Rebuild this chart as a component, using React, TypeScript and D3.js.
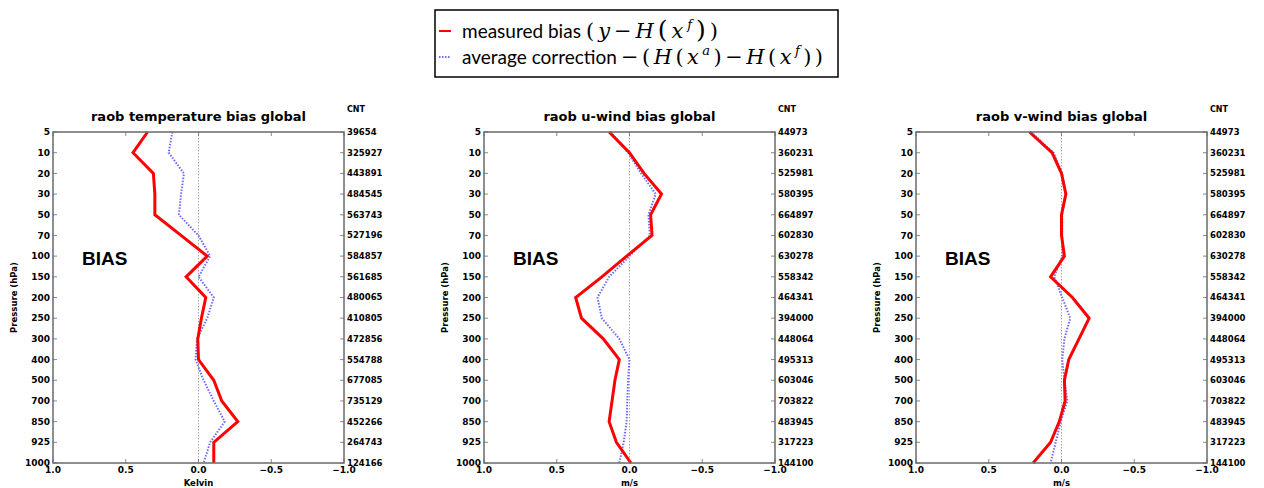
import React from "react";
import * as d3 from "d3";

const levels = [5, 10, 20, 30, 50, 70, 100, 150, 200, 250, 300, 400, 500, 700, 850, 925, 1000];
const xTicks = [1.0, 0.5, 0.0, -0.5, -1.0];

const tempMeasured = [0.35, 0.45, 0.31, 0.30, 0.30, 0.12, -0.06, 0.085, -0.05, -0.02, 0.005, 0.0, -0.105, -0.16, -0.27, -0.105, -0.105];
const tempCorrection = [0.18, 0.205, 0.10, 0.12, 0.135, 0.0, -0.08, 0.0, -0.105, -0.06, 0.01, 0.02, -0.035, -0.105, -0.18, -0.08, -0.035];
const tempCount = [39654, 325927, 443891, 484545, 563743, 527196, 584857, 561685, 480065, 410805, 472856, 554788, 677085, 735129, 452266, 264743, 124166];

const uMeasured = [0.14, 0.0, -0.10, -0.22, -0.145, -0.155, 0.02, 0.19, 0.37, 0.33, 0.18, 0.07, 0.10, 0.12, 0.14, 0.09, -0.01];
const uCorrection = [0.13, 0.01, -0.08, -0.18, -0.13, -0.14, 0.0, 0.14, 0.22, 0.19, 0.07, 0.0, 0.01, 0.015, 0.02, 0.04, 0.07];
const uCount = [44973, 360231, 525981, 580395, 664897, 602830, 630278, 558342, 464341, 394000, 448064, 495313, 603046, 703822, 483945, 317223, 144100];

const vMeasured = [0.22, 0.065, 0.0, -0.03, 0.0, 0.0, -0.02, 0.075, -0.075, -0.19, -0.12, -0.05, -0.02, -0.025, 0.015, 0.075, 0.195];
const vCorrection = [0.21, 0.055, -0.005, -0.03, -0.005, -0.005, -0.005, 0.05, -0.005, -0.06, -0.02, -0.005, -0.02, -0.04, 0.005, 0.04, 0.075];
const vCount = [44973, 360231, 525981, 580395, 664897, 602830, 630278, 558342, 464341, 394000, 448064, 495313, 603046, 703822, 483945, 317223, 144100];

const panels = [
  { title: "raob temperature bias global", unit: "Kelvin", left: 53, measured: tempMeasured, correction: tempCorrection, count: tempCount },
  { title: "raob u-wind bias global", unit: "m/s", left: 484, measured: uMeasured, correction: uCorrection, count: uCount },
  { title: "raob v-wind bias global", unit: "m/s", left: 916, measured: vMeasured, correction: vCorrection, count: vCount },
];

const PW = 291;
const TOP = 132;
const BOTTOM = 463;
const FONT = "'DejaVu Sans', sans-serif";
const SPINE = "#6a6a6a";
const fmt = (v: number) => (v < 0 ? "\u2212" : "") + Math.abs(v).toFixed(1);

function Panel({ p }: { p: (typeof panels)[number] }) {
  const x = d3.scaleLinear().domain([1, -1]).range([p.left, p.left + PW]);
  const y = d3.scalePoint<number>().domain(levels).range([TOP, BOTTOM]);
  const line = d3
    .line<number>()
    .x((d) => x(d))
    .y((_, i) => y(levels[i]) as number);
  const right = p.left + PW;
  const cx = p.left + PW / 2;
  return (
    <g>
      <text x={cx} y={121} textAnchor="middle" fontFamily={FONT} fontWeight="bold" fontSize={13}>
        {p.title}
      </text>
      <text x={right + 3} y={112} fontFamily={FONT} fontWeight="bold" fontSize={8}>
        CNT
      </text>
      <line x1={x(0)} x2={x(0)} y1={TOP} y2={BOTTOM} stroke="#aaa" strokeWidth={1} strokeDasharray="1.5,1.5" />
      <path d={line(p.correction) || ""} fill="none" stroke="#6b6bff" strokeWidth={2} strokeDasharray="1.5,1.5" />
      <path d={line(p.measured) || ""} fill="none" stroke="#ff0000" strokeWidth={3} strokeLinejoin="miter" />
      <rect x={p.left} y={TOP} width={PW} height={BOTTOM - TOP} fill="none" stroke={SPINE} strokeWidth={1.5} />
      {levels.map((lv, i) => {
        const yy = y(lv) as number;
        return (
          <g key={lv}>
            <line x1={p.left} x2={p.left + 4} y1={yy} y2={yy} stroke={SPINE} strokeWidth={0.8} />
            <line x1={right - 4} x2={right} y1={yy} y2={yy} stroke={SPINE} strokeWidth={0.8} />
            <text x={p.left - 3} y={yy} dy="0.35em" textAnchor="end" fontFamily={FONT} fontWeight="bold" fontSize={9}>
              {lv}
            </text>
            <text x={right + 3} y={yy} dy="0.35em" fontFamily={FONT} fontWeight="bold" fontSize={8.5}>
              {p.count[i]}
            </text>
          </g>
        );
      })}
      {xTicks.map((t) => (
        <g key={t}>
          <line x1={x(t)} x2={x(t)} y1={TOP} y2={TOP + 4} stroke={SPINE} strokeWidth={0.8} />
          <line x1={x(t)} x2={x(t)} y1={BOTTOM} y2={BOTTOM - 4} stroke={SPINE} strokeWidth={0.8} />
          <text x={x(t)} y={BOTTOM + 10} textAnchor="middle" fontFamily={FONT} fontWeight="bold" fontSize={9}>
            {fmt(t)}
          </text>
        </g>
      ))}
      <text x={cx} y={486} textAnchor="middle" fontFamily={FONT} fontWeight="bold" fontSize={8.5}>
        {p.unit}
      </text>
      <text
        transform={`translate(${p.left - 36},${(TOP + BOTTOM) / 2}) rotate(-90)`}
        textAnchor="middle"
        fontFamily={FONT}
        fontWeight="bold"
        fontSize={8.5}
      >
        Pressure (hPa)
      </text>
      <text x={p.left + 29} y={265} fontFamily="'Liberation Sans', Arial, sans-serif" fontWeight="bold" fontSize={19}>
        BIAS
      </text>
    </g>
  );
}

function Legend() {
  const sans = "Lato, 'Open Sans', sans-serif";
  const serif = "'DejaVu Serif', 'Liberation Serif', serif";
  return (
    <g>
      <rect x={435} y={10} width={403} height={67} fill="#fff" stroke="#000" strokeWidth={1.5} />
      <line x1={439} x2={451} y1={31} y2={31} stroke="#ff0000" strokeWidth={2} />
      <line x1={439} x2={451} y1={57} y2={57} stroke="#6b6bff" strokeWidth={2} strokeDasharray="1.5,1.5" />
      <text x={462} y={38} fontSize={19} fontFamily={sans}>
        measured bias
      </text>
      <text x={586} y={38} fontSize={21} fontFamily={serif} textLength={132} lengthAdjust="spacing">
        <tspan>(</tspan>
        <tspan fontStyle="italic">y</tspan>
        <tspan>−</tspan>
        <tspan fontStyle="italic">H</tspan>
        <tspan fontSize={25}>(</tspan>
        <tspan fontStyle="italic">x</tspan>
        <tspan fontStyle="italic" fontSize={13} dy={-9}>f</tspan>
        <tspan fontSize={25} dy={9}>)</tspan>
        <tspan>)</tspan>
      </text>
      <text x={462} y={64} fontSize={19} fontFamily={sans}>
        average correction
      </text>
      <text x={621} y={64} fontSize={21} fontFamily={serif} textLength={202} lengthAdjust="spacing">
        <tspan>−(</tspan>
        <tspan fontStyle="italic">H</tspan>
        <tspan>(</tspan>
        <tspan fontStyle="italic">x</tspan>
        <tspan fontStyle="italic" fontSize={13} dy={-9}>a</tspan>
        <tspan dy={9}>)</tspan>
        <tspan>−</tspan>
        <tspan fontStyle="italic">H</tspan>
        <tspan>(</tspan>
        <tspan fontStyle="italic">x</tspan>
        <tspan fontStyle="italic" fontSize={13} dy={-9}>f</tspan>
        <tspan dy={9}>))</tspan>
      </text>
    </g>
  );
}

export default function App() {
  return (
    <svg
      width={1264}
      height={488}
      style={{ position: "absolute", left: 0, top: 0, background: "#fff" }}
      xmlns="http://www.w3.org/2000/svg"
    >
      <rect width={1264} height={488} fill="#fff" />
      <Legend />
      {panels.map((p) => (
        <Panel key={p.title} p={p} />
      ))}
    </svg>
  );
}
